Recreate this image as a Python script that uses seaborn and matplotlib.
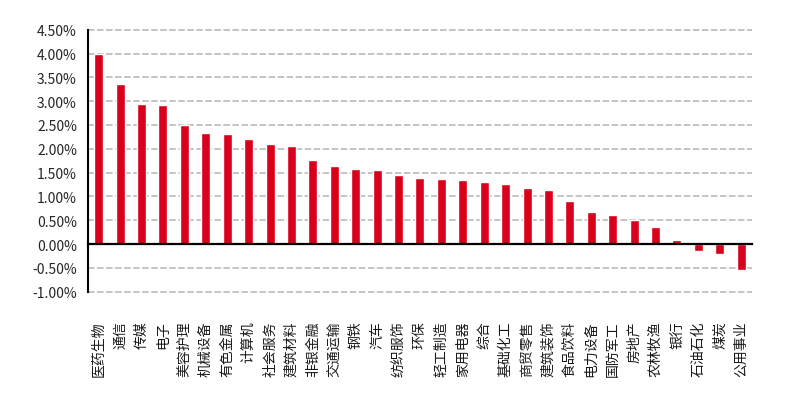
import matplotlib
matplotlib.use("Agg")
import matplotlib.pyplot as plt
import seaborn as sns
import numpy as np
import pandas as pd
from matplotlib.ticker import FuncFormatter, FixedLocator

categories = ["医药生物", "通信", "传媒", "电子", "美容护理", "机械设备", "有色金属", "计算机",
              "社会服务", "建筑材料", "非银金融", "交通运输", "钢铁", "汽车", "纺织服饰", "环保",
              "轻工制造", "家用电器", "综合", "基础化工", "商贸零售", "建筑装饰", "食品饮料",
              "电力设备", "国防军工", "房地产", "农林牧渔", "银行", "石油石化", "煤炭", "公用事业"]
values = [4.00, 3.36, 2.94, 2.92, 2.50, 2.34, 2.31, 2.21, 2.10, 2.06, 1.77, 1.64, 1.58, 1.56,
          1.45, 1.39, 1.37, 1.35, 1.31, 1.27, 1.18, 1.14, 0.91, 0.68, 0.62, 0.51, 0.36, 0.09,
          -0.14, -0.20, -0.54]
yticks = [-1.0, -0.5, 0.0, 0.5, 1.0, 1.5, 2.0, 2.5, 3.0, 3.5, 4.0, 4.5]

sns.set_style("white")
plt.rcParams["font.family"] = ["Noto Sans CJK SC", "DejaVu Sans"]

df = pd.DataFrame({"cat": categories, "val": values})

fig = plt.figure(figsize=(7.89, 4.06), dpi=100)
ax = fig.add_axes([0.1115, 0.279, 0.8415, 0.6454])

sns.barplot(data=df, x="cat", y="val", order=categories, color="#D9001B",
            saturation=1, width=0.42, ax=ax, zorder=2)

n = len(categories)
ax.set_xlim(-0.5, n - 0.5)
ax.set_ylim(yticks[0], yticks[-1])
ax.set_xlabel("")
ax.set_ylabel("")

ax.set_yticks(yticks)
ax.yaxis.set_major_formatter(FuncFormatter(lambda v, p: f"{v:.2f}%"))
ax.yaxis.grid(True, color="#BFBFBF", linestyle=(0, (3.6, 1.4)), linewidth=1.3)
ax.xaxis.grid(False)
ax.set_axisbelow(True)
for gl in ax.yaxis.get_gridlines():
    gl.set_clip_on(False)

ax.spines["top"].set_visible(False)
ax.spines["right"].set_visible(False)
ax.spines["left"].set_color("black")
ax.spines["left"].set_linewidth(1.5)
ax.spines["bottom"].set_position(("data", 0))
ax.spines["bottom"].set_color("black")
ax.spines["bottom"].set_linewidth(1.6)
ax.spines["bottom"].set_zorder(5)

ax.xaxis.set_major_locator(FixedLocator(np.arange(-0.5, n, 1.0)))
ax.set_xticks(np.arange(n), labels=categories, minor=True)
ax.tick_params(axis="x", which="major", direction="in", length=5, width=1.5,
               color="black", labelbottom=False)
ax.tick_params(axis="x", which="minor", direction="in", length=3, width=1.5,
               color="black", pad=55, labelsize=10, labelrotation=90,
               labelcolor="#1a1a1a")
ax.tick_params(axis="y", which="major", direction="in", length=5, width=1.5,
               color="black", pad=8, labelsize=10, labelcolor="#262626")
for t in ax.get_xticklabels(minor=True):
    t.set_va("top")
    t.set_ha("center")

fig.savefig("out.png", dpi=100)
